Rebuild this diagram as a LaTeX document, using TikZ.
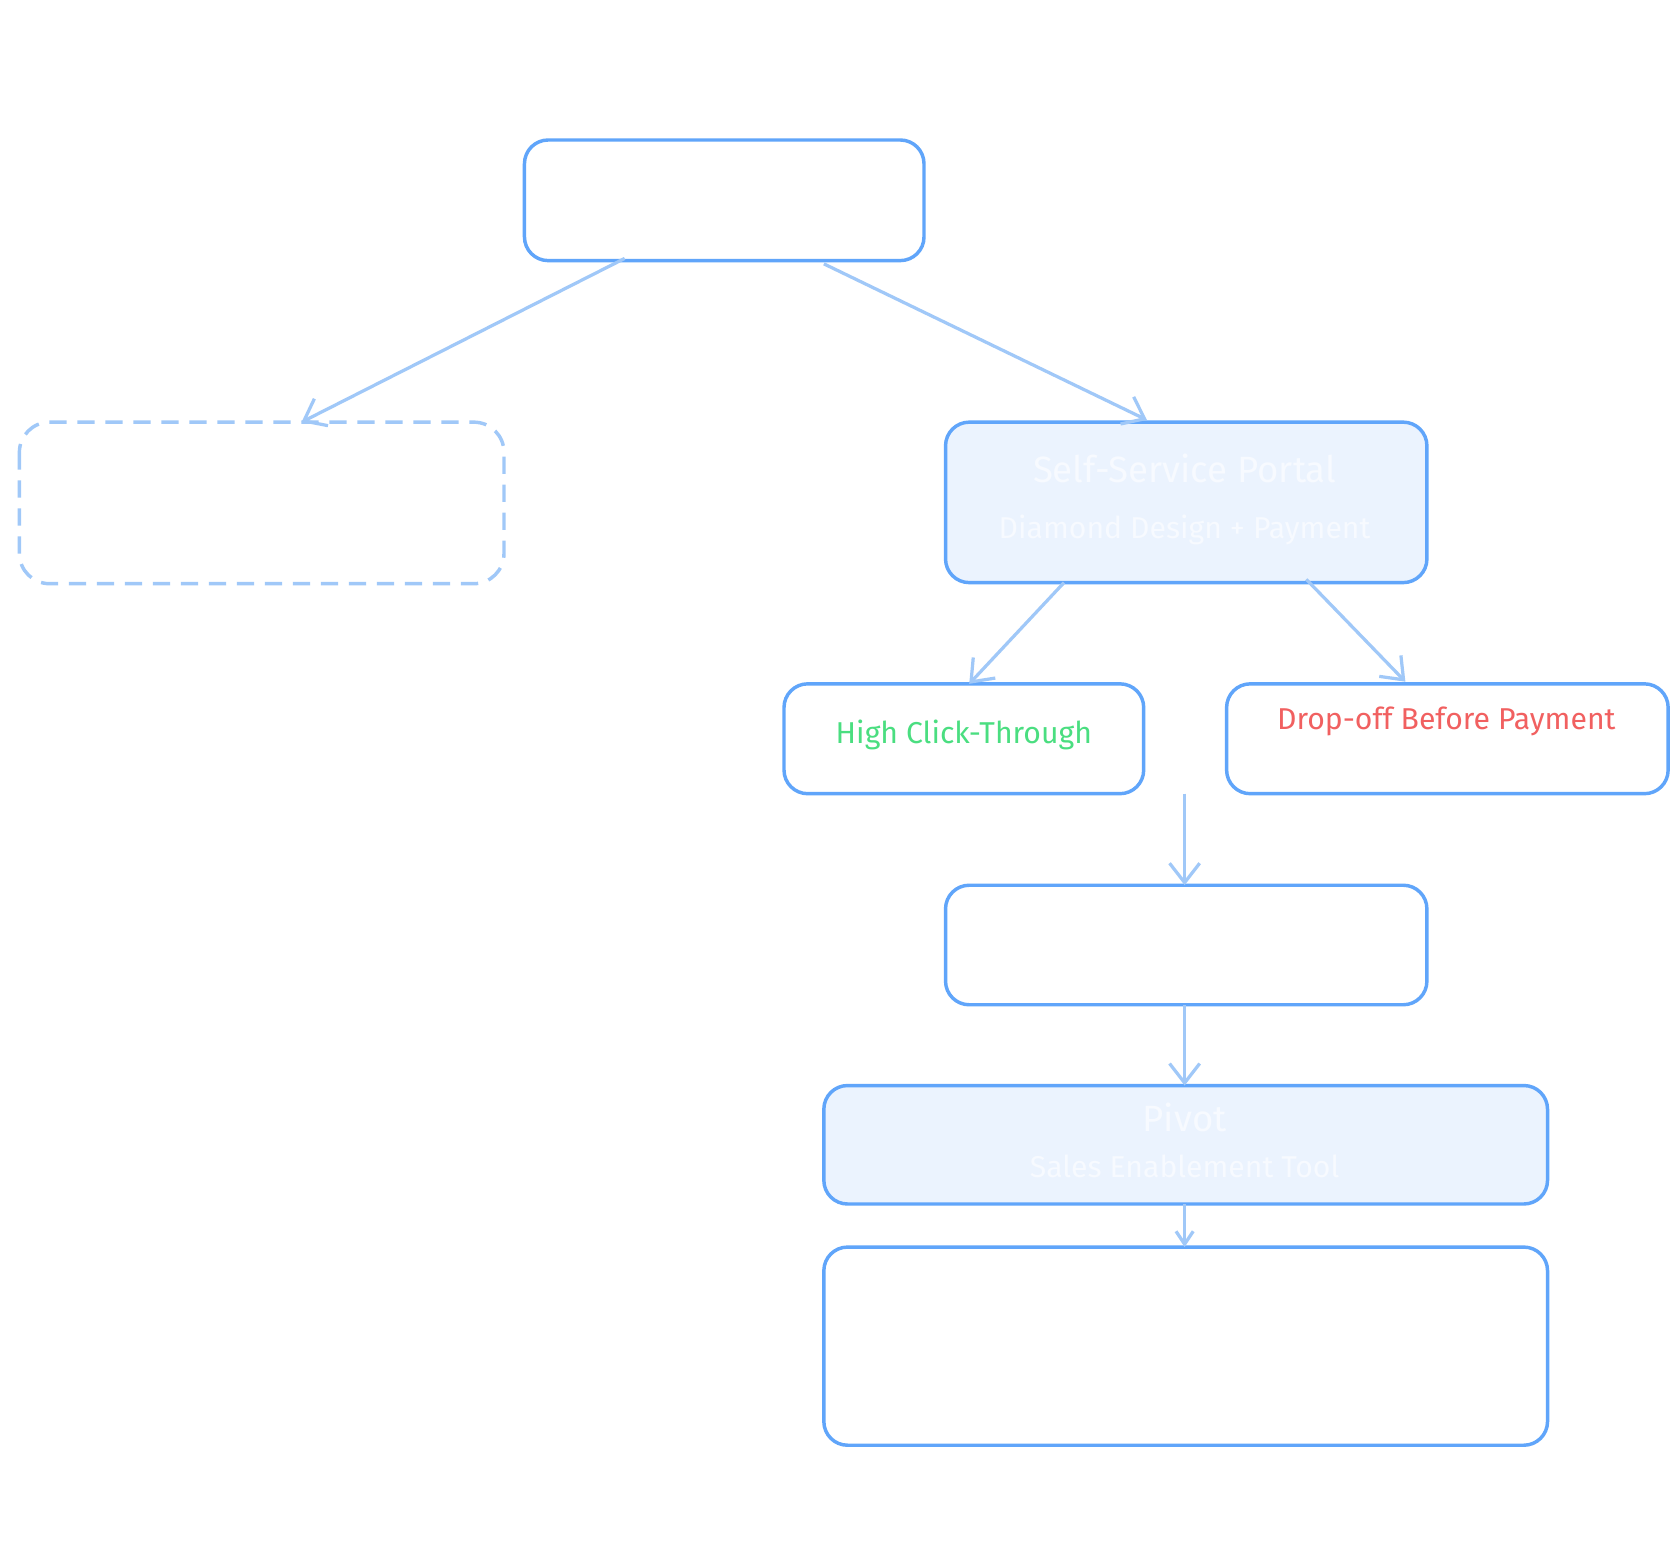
\documentclass[tikz,border=0pt]{standalone}
\usepackage{fontspec}
\setmainfont{Fira Sans}
\usetikzlibrary{arrows.meta}
\definecolor{bd}{HTML}{60A5FA}
\definecolor{ar}{HTML}{A0C8F8}
\definecolor{fl}{HTML}{EBF3FE}
\definecolor{gt}{HTML}{4ADE80}
\definecolor{rt}{HTML}{F16060}
\definecolor{wt}{HTML}{F7FAFF}
\begin{document}
\begin{tikzpicture}[x=0.5pt,y=-0.5pt,
 box/.style={draw=bd,line width=1.6pt,rounded corners=11pt},
 arr/.style={draw=ar,line width=1.5pt,-{Straight Barb[length=9pt,width=14pt]}},
 lbl/.style={font=\fontsize{14}{16}\selectfont}]
\useasboundingbox (0,0) rectangle (1560,1449);
\fill[white] (0,0) rectangle (1560,1449);
\draw[box] (487,130) rectangle (858,242);
\node (top) at (672,186) {};
\draw[draw=ar,line width=1.6pt,rounded corners=14pt,dash pattern=on 8pt off 5pt] (18,392) rectangle (468,542);
\draw[box,fill=fl] (878,392) rectangle (1325,541);
\node[lbl,text=wt,font=\fontsize{17}{19}\selectfont] (ssp) at (1100,435) {Self-Service Portal};
\node[lbl,text=wt] (sspb) at (1100,492) {Diamond Design + Payment};
\draw[box] (728,635) rectangle (1062,737);
\node[lbl,text=gt] (hi) at (895,682) {High Click-Through};
\draw[box] (1139,635) rectangle (1549,737);
\node[lbl,text=rt] (dr) at (1343,670) {Drop-off Before Payment};
\draw[box] (878,822) rectangle (1325,933);
\draw[box,fill=fl] (765,1008) rectangle (1437,1118);
\node[lbl,text=wt,font=\fontsize{17}{19}\selectfont] (pv) at (1100,1038) {Pivot};
\node[lbl,text=wt] (pvb) at (1100,1083) {Sales Enablement Tool};
\draw[box] (765,1158) rectangle (1437,1342);
\coordinate (a1) at (580,240); \coordinate (b1) at (280,392);
\coordinate (a2) at (765,245); \coordinate (b2) at (1065,390);
\coordinate (a3) at (988,541); \coordinate (b3) at (900,635);
\coordinate (a4) at (1213,538); \coordinate (b4) at (1305,633);
\coordinate (a5) at (1100,737); \coordinate (b5) at (1100,822);
\coordinate (a6) at (1100,933); \coordinate (b6) at (1100,1008);
\coordinate (a7) at (1100,1118); \coordinate (b7) at (1100,1158);
\draw[arr] (a1) -- (b1);
\draw[arr] (a2) -- (b2);
\draw[arr] (a3) -- (b3);
\draw[arr] (a4) -- (b4);
\draw[arr] (a5) -- (b5);
\draw[arr] (a6) -- (b6);
\draw[arr,-{Straight Barb[length=6pt,width=8pt]}] (a7) -- (b7);
\end{tikzpicture}
\end{document}
